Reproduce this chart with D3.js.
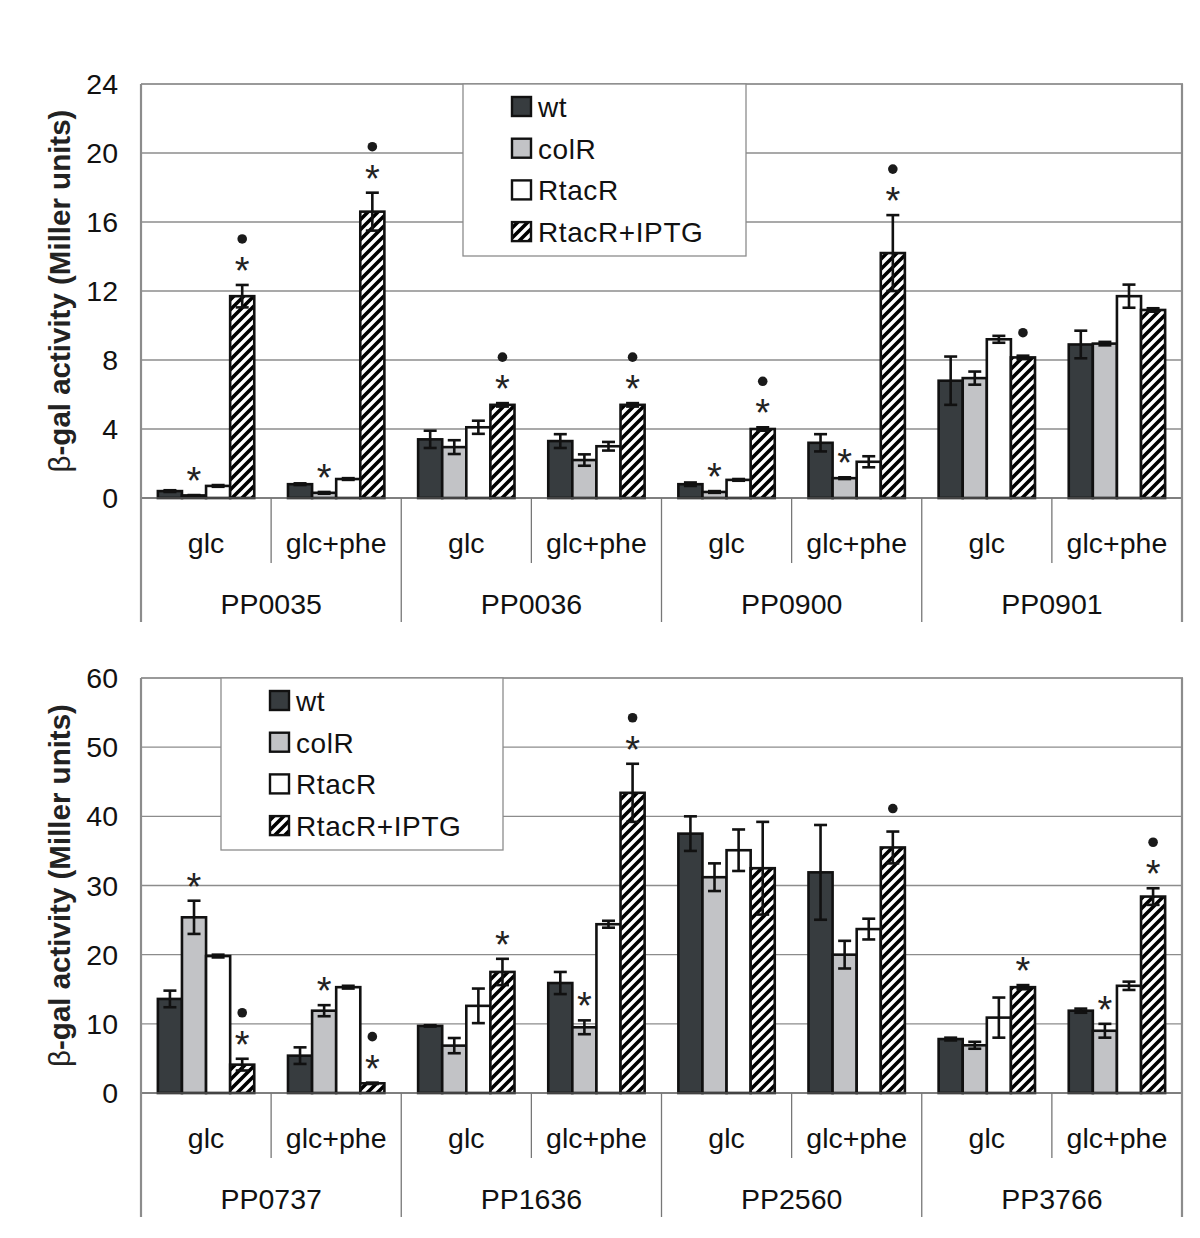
<!DOCTYPE html>
<html><head><meta charset="utf-8">
<script src="https://cdn.jsdelivr.net/npm/d3@7"></script>
<style>body{margin:0;background:#fff}svg{display:block}</style>
</head><body>
<script>
// ---- data ----
const series = ["wt", "colR", "RtacR", "RtacR+IPTG"];
const conditions = ["glc", "glc+phe"];

const genesTop = ["PP0035", "PP0036", "PP0900", "PP0901"];
const ticksTop = [0, 4, 8, 12, 16, 20, 24];
const wtTop      = [0.4, 0.8, 3.4, 3.3, 0.8, 3.2, 6.8, 8.9];
const wtTopErr   = [0.05, 0.05, 0.5, 0.4, 0.1, 0.5, 1.4, 0.8];
const colRTop    = [0.15, 0.3, 2.95, 2.2, 0.35, 1.15, 6.95, 8.95];
const colRTopErr = [0.02, 0.05, 0.4, 0.33, 0.05, 0.05, 0.38, 0.1];
const rtacRTop   = [0.7, 1.1, 4.1, 3.0, 1.05, 2.1, 9.2, 11.7];
const rtacRTopErr= [0.05, 0.05, 0.38, 0.25, 0.05, 0.32, 0.2, 0.67];
const iptgTop    = [11.7, 16.6, 5.4, 5.4, 4.0, 14.2, 8.15, 10.9];
const iptgTopErr = [0.65, 1.1, 0.1, 0.1, 0.1, 2.2, 0.1, 0.1];
const marksTop = {
  "wt":         ["", "", "", "", "", "", "", ""],
  "colR":       ["*", "*", "", "", "*", "*", "", ""],
  "RtacR":      ["", "", "", "", "", "", "", ""],
  "RtacR+IPTG": ["*•", "*•", "*•", "*•", "*•", "*•", "•", ""]
};

const genesBot = ["PP0737", "PP1636", "PP2560", "PP3766"];
const ticksBot = [0, 10, 20, 30, 40, 50, 60];
const wtBot      = [13.6, 5.4, 9.7, 15.9, 37.5, 31.9, 7.8, 11.9];
const wtBotErr   = [1.2, 1.2, 0.1, 1.6, 2.5, 6.85, 0.2, 0.3];
const colRBot    = [25.4, 11.9, 6.85, 9.5, 31.2, 20.0, 6.9, 9.0];
const colRBotErr = [2.4, 0.8, 1.1, 1.0, 2.0, 2.0, 0.5, 1.0];
const rtacRBot   = [19.8, 15.3, 12.6, 24.4, 35.1, 23.7, 10.9, 15.5];
const rtacRBotErr= [0.2, 0.2, 2.5, 0.5, 3.0, 1.5, 2.9, 0.6];
const iptgBot    = [4.1, 1.4, 17.5, 43.4, 32.5, 35.5, 15.3, 28.4];
const iptgBotErr = [0.85, 0.1, 1.9, 4.2, 6.7, 2.3, 0.3, 1.2];
const marksBot = {
  "wt":         ["", "", "", "", "", "", "", ""],
  "colR":       ["*", "*", "", "*", "", "", "", "*"],
  "RtacR":      ["", "", "", "", "", "", "", ""],
  "RtacR+IPTG": ["*•", "*•", "*", "*•", "", "•", "*", "*•"]
};

const yTitle = "-gal activity (Miller units)";

// ---- drawing ----
const svg = d3.select("body").append("svg").attr("width", 1200).attr("height", 1238);
const defs = svg.append("defs");
const pat = defs.append("pattern").attr("id", "hatch").attr("patternUnits", "userSpaceOnUse")
  .attr("width", 10).attr("height", 10);
pat.append("rect").attr("width", 10).attr("height", 10).attr("fill", "#fff");
pat.append("path").attr("d", "M-3,3 L3,-3 M0,10 L10,0 M7,13 L13,7")
  .attr("stroke", "#000").attr("stroke-width", 3.6);

const fills = {"wt": "#373c3f", "colR": "#c2c3c6", "RtacR": "#ffffff", "RtacR+IPTG": "url(#hatch)"};
const font = "'Liberation Sans', Arial, sans-serif";

function drawChart(o) {
  const g = svg.append("g");
  const left = 141, right = 1182;
  const cats = [];
  o.genes.forEach(ge => conditions.forEach(c => cats.push(ge + "|" + c)));
  const x0 = d3.scaleBand().domain(cats).range([left, right]).padding(0);
  const x1 = d3.scaleBand().domain(series).range([0, x0.bandwidth()]).paddingInner(0).paddingOuter(0.7);
  const y = d3.scaleLinear().domain([0, o.ticks[o.ticks.length - 1]]).range([o.zero, o.top]);

  // gridlines
  g.selectAll("line.grid").data(o.ticks.slice(1, -1)).join("line")
    .attr("x1", left).attr("x2", right).attr("y1", d => y(d)).attr("y2", d => y(d))
    .attr("stroke", "#8c8c8c").attr("stroke-width", 1.3);
  // plot border top
  g.append("line").attr("x1", left).attr("x2", right + 1).attr("y1", y(o.ticks[o.ticks.length - 1])).attr("y2", y(o.ticks[o.ticks.length - 1]))
    .attr("stroke", "#9a9a9a").attr("stroke-width", 2.2);

  // y tick labels
  g.selectAll("text.tick").data(o.ticks).join("text")
    .attr("x", 118).attr("y", d => y(d) + 10).attr("text-anchor", "end")
    .attr("font-family", font).attr("font-size", 28.5).attr("fill", "#111").text(d => d);

  // y title
  const cy = (o.top + o.zero) / 2;
  const t = g.append("text").attr("transform", `translate(70,${cy}) rotate(-90)`)
    .attr("text-anchor", "middle").attr("font-family", font).attr("font-size", 29.5)
    .attr("font-weight", "bold").attr("fill", "#222");
  t.append("tspan").attr("font-weight", "normal").text("β");
  t.append("tspan").text(yTitle);

  // bars
  const vals = o.values, errs = o.errs;
  series.forEach((s, si) => {
    const recs = cats.map((c, i) => ({c, v: vals[si][i], e: errs[si][i], m: o.marks[s][i]}));
    const gs = g.append("g");
    gs.selectAll("rect").data(recs).join("rect")
      .attr("x", d => x0(d.c) + x1(s)).attr("width", x1.bandwidth())
      .attr("y", d => y(d.v)).attr("height", d => y(0) - y(d.v))
      .attr("fill", fills[s]).attr("stroke", "#111").attr("stroke-width", 2.6);
    const cap = 6.5;
    const cx = d => x0(d.c) + x1(s) + x1.bandwidth() / 2;
    const eb = gs.selectAll("g.eb").data(recs).join("g");
    eb.append("line").attr("x1", cx).attr("x2", cx)
      .attr("y1", d => y(d.v + d.e)).attr("y2", d => y(Math.max(0, d.v - d.e)))
      .attr("stroke", "#111").attr("stroke-width", 2.6);
    eb.append("line").attr("x1", d => cx(d) - cap).attr("x2", d => cx(d) + cap)
      .attr("y1", d => y(d.v + d.e)).attr("y2", d => y(d.v + d.e))
      .attr("stroke", "#111").attr("stroke-width", 2.6);
    eb.append("line").attr("x1", d => cx(d) - cap).attr("x2", d => cx(d) + cap)
      .attr("y1", d => y(Math.max(0, d.v - d.e))).attr("y2", d => y(Math.max(0, d.v - d.e)))
      .attr("stroke", "#111").attr("stroke-width", 2.6);
    // markers
    recs.forEach(d => {
      const top = y(d.v + d.e);
      let off = 22;
      for (const ch of d.m) {
        if (ch === "*") {
          gs.append("text").attr("x", cx(d)).attr("y", top - off + 21)
            .attr("text-anchor", "middle").attr("font-family", font).attr("font-size", 38)
            .attr("fill", "#222").text("*");
        } else {
          gs.append("circle").attr("cx", cx(d)).attr("cy", top - off - 1).attr("r", 4.8).attr("fill", "#1a1a1a");
        }
        off += 23;
      }
    });
  });

  // axis line at zero
  g.append("line").attr("x1", left).attr("x2", right).attr("y1", y(0)).attr("y2", y(0))
    .attr("stroke", "#555").attr("stroke-width", 1.6);
  // left & right vertical lines
  [left, right].forEach(xx => g.append("line").attr("x1", xx).attr("x2", xx)
    .attr("y1", o.top).attr("y2", o.zero + 124).attr("stroke", "#8c8c8c").attr("stroke-width", 2.2));
  // category separators
  cats.slice(1).forEach((c, i) => {
    const xx = x0(c);
    const inner = (i % 2 === 0);
    g.append("line").attr("x1", xx).attr("x2", xx).attr("y1", o.zero)
      .attr("y2", o.zero + (inner ? 65 : 124)).attr("stroke", "#777").attr("stroke-width", 1.3);
  });
  // category labels
  g.selectAll("text.cond").data(cats).join("text")
    .attr("x", d => x0(d) + x0.bandwidth() / 2).attr("y", o.zero + 55)
    .attr("text-anchor", "middle").attr("font-family", font).attr("font-size", 28.5).attr("fill", "#111")
    .text(d => d.split("|")[1]);
  g.selectAll("text.gene").data(o.genes).join("text")
    .attr("x", d => x0(d + "|glc") + x0.bandwidth()).attr("y", o.zero + 116)
    .attr("text-anchor", "middle").attr("font-family", font).attr("font-size", 28.5).attr("fill", "#111")
    .text(d => d);

  // legend
  const L = o.legend;
  g.append("rect").attr("x", L.x).attr("y", L.y).attr("width", L.w).attr("height", L.h)
    .attr("fill", "#fff").attr("stroke", "#8c8c8c").attr("stroke-width", 1.3);
  series.forEach((s, i) => {
    const ry = L.y + 23 + i * 41.7;
    g.append("rect").attr("x", L.x + 49).attr("y", ry - 10).attr("width", 19).attr("height", 19)
      .attr("fill", fills[s]).attr("stroke", "#111").attr("stroke-width", 2.4);
    g.append("text").attr("x", L.x + 75).attr("y", ry + 10).attr("letter-spacing", 0.6)
      .attr("font-family", font).attr("font-size", 28).attr("fill", "#111").text(s);
  });
}

drawChart({
  top: 84, zero: 498, ticks: ticksTop, genes: genesTop,
  values: [wtTop, colRTop, rtacRTop, iptgTop],
  errs: [wtTopErr, colRTopErr, rtacRTopErr, iptgTopErr],
  marks: marksTop,
  legend: {x: 463, y: 84, w: 283, h: 172}
});
drawChart({
  top: 678, zero: 1093, ticks: ticksBot, genes: genesBot,
  values: [wtBot, colRBot, rtacRBot, iptgBot],
  errs: [wtBotErr, colRBotErr, rtacRBotErr, iptgBotErr],
  marks: marksBot,
  legend: {x: 221, y: 678, w: 282, h: 172}
});
</script>
</body></html>
